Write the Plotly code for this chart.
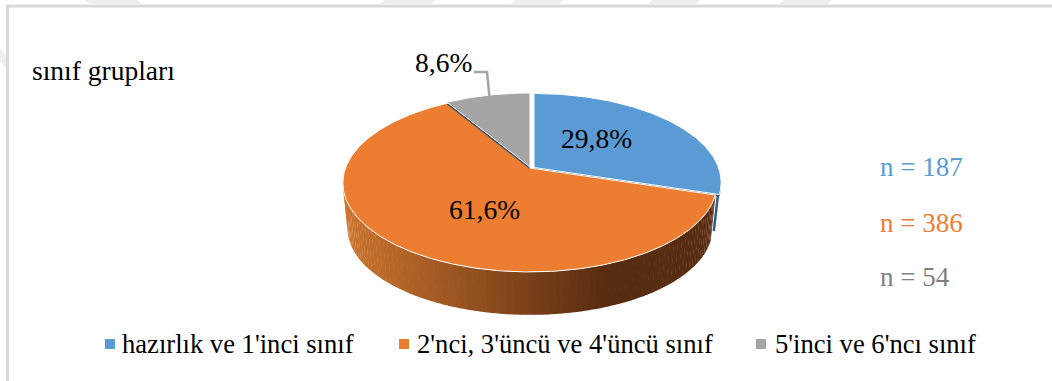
import math
import plotly.graph_objects as go

# Study sample by class group
groups = ["hazırlık ve 1'inci sınıf", "2'nci, 3'üncü ve 4'üncü sınıf", "5'inci ve 6'ncı sınıf"]
shares = [29.8, 61.6, 8.6]
share_labels = ["29,8%", "61,6%", "8,6%"]
counts = [187, 386, 54]
colors = ["#5B9BD5", "#ED7D31", "#A5A5A5"]
count_colors = ["#5B9BD5", "#ED7D31", "#7F7F7F"]

SERIF = "Liberation Serif"

# Tilted disc: a circle seen through a perspective divide, drawn on a pixel-sized plane
CX, CY = 530.0, 168.0
SEMI_X, SEMI_Y, PERSP = 184.5, 86.5, 0.168
WALL_DROP, WALL_SCALE_X, WALL_SCALE_Y = 46.0, 0.975, 0.97


def project(deg):
    th = math.radians(deg)
    t = -math.cos(th)
    w = 1 - PERSP * t
    return CX + SEMI_X * math.sin(th) / w, CY + SEMI_Y * t / w


def rim(start, end, step=0.5):
    n = max(2, int(abs(end - start) / step))
    return [project(start + (end - start) * i / n) for i in range(n + 1)]


def lower(pt):
    return (CX + (pt[0] - CX) * WALL_SCALE_X, CY + WALL_DROP + (pt[1] - CY) * WALL_SCALE_Y)


def mix(a, b, f):
    return "#%02x%02x%02x" % tuple(round(a[i] + (b[i] - a[i]) * f) for i in range(3))


def polygon(points, fill, line="rgba(0,0,0,0)", width=0):
    xs, ys = zip(*points)
    return go.Scatter(x=list(xs), y=list(ys), mode="lines", fill="toself", fillcolor=fill,
                      line=dict(color=line, width=width), hoverinfo="skip", showlegend=False)


angles = []
a = 0.0
for s in shares:
    angles.append((a, a + s * 3.6))
    a += s * 3.6

fig = go.Figure()

# Side wall of the large slice, shaded left to right
orange_start, orange_end = angles[1]
front_stop = min(orange_end, 272.0)
strip_count = 90
light, dark = (204, 116, 46), (88, 44, 16)
for i in range(strip_count):
    a0 = orange_start + (front_stop - orange_start) * i / strip_count
    a1 = orange_start + (front_stop - orange_start) * (i + 1) / strip_count + 0.2
    top = rim(a0, a1, 0.5)
    bottom = [lower(p) for p in reversed(top)]
    f = min(1.0, max(0.0, (610 - top[0][0]) / 265))
    fig.add_trace(polygon(top + bottom, mix(dark, light, f)))

# Thin dark edge showing from the raised blue slice
blue_end = project(angles[0][1])
fig.add_trace(go.Scatter(
    x=[blue_end[0] + 2.5, lower(blue_end)[0] + 3], y=[blue_end[1], lower(blue_end)[1] - 9],
    mode="lines", line=dict(color="#2F5F85", width=2.5), hoverinfo="skip", showlegend=False))

# Top faces; the blue and grey slices sit slightly off the centre
offsets = [(4.0, -0.5), (0.0, 0.0), (0.0, -1.0)]
for (start, end), color, (dx, dy) in zip(angles, colors, offsets):
    pts = [(CX, CY)] + rim(start, end) + [(CX, CY)]
    pts = [(x + dx, y + dy) for x, y in pts]
    if color == colors[0]:
        fig.add_trace(polygon([(x, y + 2) for x, y in pts], "#2F5F85"))
    if color == colors[2]:
        fig.add_trace(polygon([(x - 0.5, y + 2) for x, y in pts], "#44546A"))
    fig.add_trace(polygon(pts, color, "#FFFFFF", 1))

# Leader line for the small slice
gray_mid = project(sum(angles[2]) / 2)
fig.add_trace(go.Scatter(x=[474, 487, gray_mid[0] + 2], y=[72, 72, gray_mid[1] + 2], mode="lines",
                         line=dict(color="#A5A5A5", width=2.5), hoverinfo="skip", showlegend=False))

shapes = [
    # Frame runs along the top and left only
    dict(type="path", xref="x", yref="y", path="M 7.5 381 L 7.5 6 L 1052 6",
         line=dict(color="#D9D9D9", width=3), layer="below"),
]
# Pale background bands clipped by the frame
for x0, x1, x2, x3 in [(84, 138, 92, 142), (385, 436, 379, 430), (516, 564, 510, 558),
                       (653, 701, 647, 695), (784, 832, 778, 826)]:
    shapes.append(dict(type="path", xref="x", yref="y",
                       path=f"M {x0} 0 L {x1} 0 L {x3} 5 L {x2} 5 Z",
                       fillcolor="#EFEFEF", line=dict(width=0), layer="below"))
shapes.append(dict(type="path", xref="x", yref="y", path="M 0 48 L 6 56 L 6 68 L 0 62 Z",
                   fillcolor="#EFEFEF", line=dict(width=0), layer="below"))

annotations = []


def text(x, y, s, size=27.5, color="#000000", anchor="left"):
    annotations.append(dict(x=x, y=y, xref="x", yref="y", text=s, showarrow=False, xanchor=anchor,
                            yanchor="middle", font=dict(family=SERIF, size=size, color=color)))


text(30, 70, "sınıf grupları")
text(596, 138, share_labels[0], anchor="center")
text(484, 209, share_labels[1], anchor="center")
text(443, 62, share_labels[2], anchor="center")

for n, color, y in zip(counts, count_colors, [167, 223, 277]):
    text(878, y, f"n = {n}", size=27, color=color)

for label, color, mx, tx in zip(groups, colors, [110, 404, 761], [120, 415, 773]):
    shapes.append(dict(type="rect", xref="x", yref="y", x0=mx - 5, x1=mx + 5, y0=339, y1=349,
                       fillcolor=color, line=dict(width=0)))
    text(tx, 344, label, size=26.6)

fig.update_layout(
    width=1052, height=381, margin=dict(l=0, r=0, t=0, b=0),
    paper_bgcolor="#FFFFFF", plot_bgcolor="#FFFFFF", showlegend=False,
    xaxis=dict(range=[0, 1052], visible=False, fixedrange=True),
    yaxis=dict(range=[381, 0], visible=False, fixedrange=True),
    shapes=shapes, annotations=annotations,
)
fig.write_html("out.html", config=dict(displayModeBar=False))
